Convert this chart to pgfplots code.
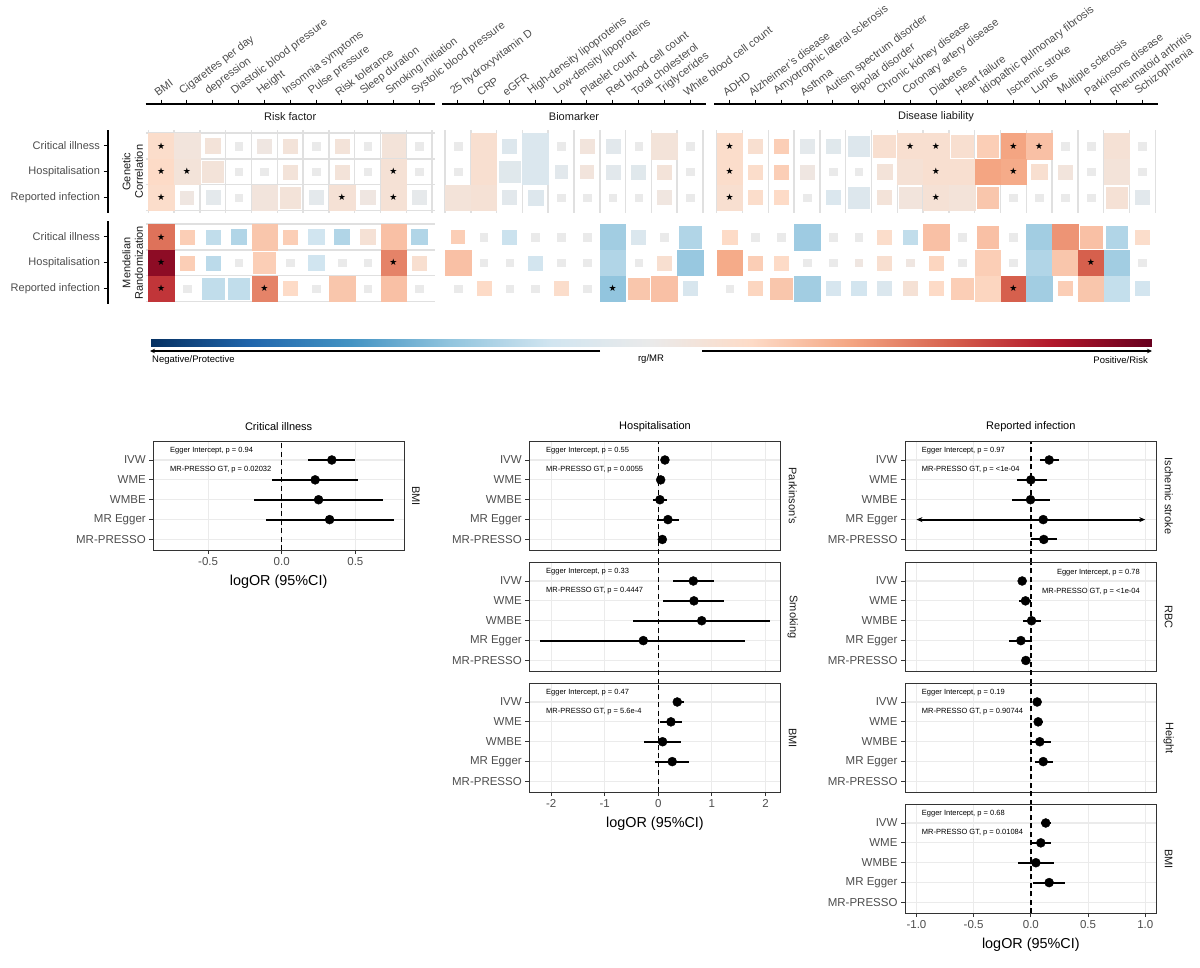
\documentclass[border=0pt]{standalone}
\usepackage{fontspec}
\setmainfont{Liberation Sans}
\newfontfamily\symfont{DejaVu Sans}
\usepackage{pgfplots}
\pgfplotsset{compat=1.18}
\usetikzlibrary{arrows.meta}

\newcommand{\fs}[1]{\fontsize{#1pt}{#1pt}\selectfont}
\definecolor{grey30}{HTML}{4D4D4D}
\definecolor{grey20}{HTML}{333333}
\definecolor{grey10}{HTML}{1A1A1A}
\definecolor{grey92}{HTML}{EBEBEB}
\definecolor{heatgrid}{HTML}{E0E0E0}

\pgfplotsset{
  colormap={rdbu}{rgb255(0cm)=(5,48,97) rgb255(1cm)=(33,102,172) rgb255(2cm)=(67,147,195)
    rgb255(3cm)=(146,197,222) rgb255(4cm)=(209,229,240) rgb255(5cm)=(234,234,234)
    rgb255(6cm)=(253,219,199) rgb255(7cm)=(244,165,130) rgb255(8cm)=(214,96,77)
    rgb255(9cm)=(178,24,43) rgb255(10cm)=(103,0,31)},
  heat/.style={
    scale only axis, anchor=north west,
    x=25.8pt, y=25.8pt, y dir=reverse,
    xmin=0.4, ymin=0.4, ymax=3.6,
    axis on top, clip=false,
    colormap name=rdbu, point meta min=-1, point meta max=1,
    separate axis lines, axis x line*=top, axis y line*=left,
    axis line style={draw=none},
    xtick=\empty, ytick=\empty,
    minor ytick={0.5,1.5,2.5,3.5},
    grid=minor, minor grid style={color=heatgrid, line width=1.5pt},
    minor tick length=0pt, major tick length=4.5pt, tick align=outside,
    tick style={black, line width=1pt},
    tick label style={font=\fs{11}, color=grey30},
  },
  heattop/.style={
    x axis line style={draw=black, line width=1.3pt},
    axis x line shift=26.4pt,
    xticklabel shift=2.5pt,
    xticklabel style={xshift=-3pt, rotate=37, anchor=south west, inner sep=0pt},
  },
  heatleft/.style={
    ytick={1,2,3},
    yticklabels={Critical illness,Hospitalisation,Reported infection},
    y axis line style={draw=black, line width=1.3pt},
    axis y line shift=37.7pt,
  },
  tiles/.style={
    scatter, only marks, mark=square*, scatter src=explicit,
    scatter/use mapped color={draw=mapped color, fill=mapped color},
    mark options={line width=0.2pt},
    visualization depends on={value \thisrow{s} \as \sz},
    scatter/@pre marker code/.append style={/tikz/mark size=\sz*12.8pt},
  },
  stars/.style={
    only marks, black, mark=text, text mark={\symfont ★}, text mark as node=true,
    text mark style={font=\fs{9}, inner sep=0pt, anchor=center},
  },
  forest/.style={
    scale only axis, anchor=north west, height=108.5pt,
    ymin=0.46, ymax=5.92, ytick={1,2,3,4,5},
    yticklabels={MR-PRESSO,MR Egger,WMBE,WME,IVW},
    xmajorgrids, ymajorgrids, grid style={color=grey92, line width=1.1pt},
    axis line style={color=grey20, line width=0.9pt},
    tick style={color=grey20, line width=0.9pt},
    major tick length=4pt, tick align=outside,
    xtick pos=left, ytick pos=left,
    tick label style={font=\fs{11.5}, color=grey30},
    clip=false,
  },
  inner/.style={xticklabels={}, xtick style={draw=none}},
  est/.style={only marks, black, mark=*, mark size=4.5pt,
    error bars/.cd, x dir=both, x explicit, error mark=none,
    error bar style={line width=2pt, black}},
  zero/.style={black, line width=1.3pt, dash pattern=on 5pt off 3.5pt},
  /pgfplots/table/estcols/.style={x=est, y=r,
    x error plus expr=\thisrow{hi}-\thisrow{est},
    x error minus expr=\thisrow{est}-\thisrow{lo}},
}
\newcommand{\panelstrip}[1]{\node[xshift=12pt, rotate=-90, font=\fs{11}, color=grey10] at (axis description cs:1,0.5) {#1};}
\newcommand{\panelnote}[2]{%
  \node[anchor=west, xshift=13.4pt, font=\fs{7.5}] at ({axis description cs:0,0}|-{axis cs:0,5.47}) {Egger Intercept, p = #1};
  \node[anchor=west, xshift=13.4pt, font=\fs{7.5}] at ({axis description cs:0,0}|-{axis cs:0,4.5}) {MR-PRESSO GT, p = #2};}
\newcommand{\paneltitle}[1]{\node[yshift=14.7pt, font=\fs{11}] at (axis description cs:0.5,1) {#1};}
\newcommand{\panelxlabel}{\node[yshift=-32pt, font=\fs{14.4}] at (axis description cs:0.5,0) {logOR (95\%CI)};}

\begin{document}
\begin{tikzpicture}
\path[use as bounding box] (0,0) rectangle (1200pt,-967pt);

% ---------------- heatmap: genetic correlation ----------------
\begin{axis}[heat, heattop, heatleft, at={(145.72pt,-130.42pt)}, xmax=11.6,
  minor xtick={0.5,1.5,...,11.5}, xtick={1,...,11},
  xticklabels={BMI,Cigarettes per day,depression,Diastolic blood pressure,Height,Insomnia symptoms,Pulse pressure,Risk tolerance,Sleep duration,Smoking initiation,Systolic blood pressure}]
\addplot[tiles] table[meta=v] {
x y v s
1 1 0.18 1
2 1 0.08 1
3 1 0.10 0.6
4 1 0 0.3
5 1 0.05 0.55
6 1 0.10 0.55
7 1 0 0.3
8 1 0.10 0.55
9 1 0 0.3
10 1 0.10 0.9
11 1 0 0.3
1 2 0.20 1
2 2 0.10 1
3 2 0.10 0.8
4 2 0 0.3
5 2 0 0.3
6 2 0.10 0.55
7 2 0 0.3
8 2 0.10 0.55
9 2 0 0.3
10 2 0.12 1
11 2 0 0.3
1 3 0.18 1
2 3 0.05 0.5
3 3 -0.05 0.55
4 3 0 0.3
5 3 0.08 1
6 3 0.10 0.8
7 3 -0.05 0.55
8 3 0.12 1
9 3 0.05 0.55
10 3 0.12 1
11 3 -0.03 0.55
};
\addplot[stars] table {
x y
1 1
1 2
2 2
10 2
1 3
8 3
10 3
};
\node[yshift=13.4pt, font=\fs{11}, color=grey10] at (axis description cs:0.5,1) {Risk factor};
\node[xshift=-13pt, rotate=90, align=center, font=\fontsize{11pt}{12.5pt}\selectfont, color=grey10] at (axis description cs:0,0.5) {Genetic\\Correlation};
\end{axis}

\begin{axis}[heat, heattop, at={(442.42pt,-130.42pt)}, xmax=10.6,
  minor xtick={0.5,1.5,...,10.5}, xtick={1,...,10},
  xticklabels={25 hydroxyvitamin D,CRP,eGFR,High-density lipoproteins,Low-density lipoproteins,Platelet count,Red blood cell count,Total cholesterol,Triglycerides,White blood cell count}]
\addplot[tiles] table[meta=v] {
x y v s
1 1 0 0.3
2 1 0.15 1
3 1 -0.10 0.55
4 1 -0.12 1
5 1 0 0.3
6 1 0.08 0.55
7 1 -0.06 0.55
8 1 0 0.3
9 1 0.10 1
10 1 0 0.3
1 2 0 0.3
2 2 0.15 1
3 2 -0.08 0.85
4 2 -0.12 1
5 2 -0.06 0.5
6 2 0.08 0.5
7 2 -0.06 0.55
8 2 -0.08 0.55
9 2 0.10 0.55
10 2 0 0.3
1 3 0.10 1
2 3 0.12 1
3 3 -0.06 0.55
4 3 -0.10 0.6
5 3 0 0.3
6 3 0 0.3
7 3 0 0.3
8 3 0 0.3
9 3 0.06 0.55
10 3 0 0.3
};
\node[yshift=13.4pt, font=\fs{11}, color=grey10] at (axis description cs:0.5,1) {Biomarker};
\end{axis}

\begin{axis}[heat, heattop, at={(714.12pt,-130.42pt)}, xmax=17.6,
  minor xtick={0.5,1.5,...,17.5}, xtick={1,...,17},
  xticklabels={ADHD,Alzheimer's disease,Amyotrophic lateral sclerosis,Asthma,Autism spectrum disorder,Bipolar disorder,Chronic kidney disease,Coronary artery disease,Diabetes,Heart failure,Idiopathic pulmonary fibrosis,Ischemic stroke,Lupus,Multiple sclerosis,Parkinsons disease,Rheumatoid arthritis,Schizophrenia}]
\addplot[tiles] table[meta=v] {
x y v s
1 1 0.18 1
2 1 0.15 0.55
3 1 0.25 0.55
4 1 -0.05 0.55
5 1 -0.08 0.55
6 1 -0.10 0.8
7 1 0.15 0.85
8 1 0.15 1
9 1 0.15 1
10 1 0.15 0.85
11 1 0.25 0.85
12 1 0.40 1
13 1 0.30 1
14 1 0 0.3
15 1 0 0.3
16 1 0.12 1
17 1 0 0.3
1 2 0.18 1
2 2 0.18 0.55
3 2 0.25 0.55
4 2 0.05 0.55
5 2 0 0.3
6 2 0 0.3
7 2 0.10 0.6
8 2 0.12 1
9 2 0.15 1
10 2 0.15 1
11 2 0.40 1
12 2 0.38 1
13 2 0.15 0.6
14 2 0.08 0.55
15 2 0 0.3
16 2 0.10 1
17 2 0 0.3
1 3 0.15 1
2 3 0.18 0.55
3 3 0.20 0.55
4 3 0 0.3
5 3 -0.12 0.55
6 3 -0.10 0.85
7 3 0.10 0.55
8 3 0.08 0.85
9 3 0.12 1
10 3 0.10 1
11 3 0.28 0.85
12 3 0 0.3
13 3 0 0.3
14 3 0 0.3
15 3 0 0.3
16 3 0.12 0.85
17 3 -0.06 0.55
};
\addplot[stars] table {
x y
1 1
8 1
9 1
12 1
13 1
1 2
9 2
12 2
1 3
9 3
};
\node[yshift=13.4pt, font=\fs{11}, color=grey10] at (axis description cs:0.5,1) {Disease liability};
\end{axis}

% ---------------- heatmap: Mendelian randomization ----------------
\begin{axis}[heat, heatleft, at={(145.72pt,-221.42pt)}, xmax=11.6,
  minor xtick={0.5,1.5,...,11.5},
  colorbar horizontal,
  colorbar style={at={(parent axis.south west)}, anchor=north west,
    xshift=4.28pt, yshift=-27pt, scale only axis, width=1002pt, height=7pt,
    xtick=\empty, ytick=\empty, axis line style={draw=none}}]
\addplot[tiles] table[meta=v] {
x y v s
1 1 0.55 1
2 1 0.25 0.55
3 1 -0.25 0.55
4 1 -0.30 0.6
5 1 0.28 1
6 1 0.25 0.55
7 1 -0.20 0.6
8 1 -0.30 0.6
9 1 0.12 0.6
10 1 0.30 1
11 1 -0.30 0.6
1 2 0.90 1
2 2 0.25 0.55
3 2 -0.27 0.55
4 2 0 0.3
5 2 0.25 0.85
6 2 0 0.3
7 2 -0.20 0.6
8 2 0 0.3
9 2 0 0.3
10 2 0.50 1
11 2 0.15 0.55
1 3 0.72 1
2 3 0 0.3
3 3 -0.25 0.85
4 3 -0.25 0.85
5 3 0.50 1
6 3 0.20 0.55
7 3 0 0.3
8 3 0.28 1
9 3 0 0.3
10 3 0.30 1
11 3 0 0.3
};
\addplot[stars] table {
x y
1 1
1 2
10 2
1 3
5 3
};
\node[xshift=-13pt, rotate=90, align=center, font=\fontsize{11pt}{12.5pt}\selectfont, color=grey10] at (axis description cs:0,0.5) {Mendelian\\Randomization};
\end{axis}

\begin{axis}[heat, at={(442.42pt,-221.42pt)}, xmax=10.6,
  minor xtick={0.5,1.5,...,10.5}]
\addplot[tiles] table[meta=v] {
x y v s
1 1 0.25 0.5
2 1 0 0.3
3 1 -0.22 0.55
4 1 0 0.3
5 1 0 0.3
6 1 0 0.3
7 1 -0.35 1
8 1 -0.12 0.55
9 1 0 0.3
10 1 -0.30 0.85
1 2 0.30 1
2 2 0 0.3
3 2 0 0.3
4 2 -0.18 0.55
5 2 0 0.3
6 2 0 0.3
7 2 -0.30 1
8 2 0 0.3
9 2 0.15 0.55
10 2 -0.38 1
1 3 0 0.3
2 3 0.20 0.55
3 3 0 0.3
4 3 0 0.3
5 3 0.18 0.55
6 3 0 0.3
7 3 -0.40 1
8 3 0.28 0.85
9 3 0.30 1
10 3 -0.14 0.55
};
\addplot[stars] table {
x y
7 3
};
\end{axis}

\begin{axis}[heat, at={(714.12pt,-221.42pt)}, xmax=17.6,
  minor xtick={0.5,1.5,...,17.5}]
\addplot[tiles] table[meta=v] {
x y v s
1 1 0.20 0.55
2 1 0 0.3
3 1 0 0.3
4 1 -0.36 1
5 1 0 0.3
6 1 0 0.3
7 1 0.18 0.55
8 1 -0.25 0.55
9 1 0.30 1
10 1 0 0.3
11 1 0.30 0.85
12 1 0 0.3
13 1 -0.35 1
14 1 0.45 1
15 1 0.30 0.85
16 1 -0.30 0.85
17 1 0.18 0.55
1 2 0.38 1
2 2 0.25 0.55
3 2 0.20 0.55
4 2 0 0.3
5 2 0 0.3
6 2 0.05 0.3
7 2 0.15 0.55
8 2 0.05 0.3
9 2 0.22 0.55
10 2 0 0.3
11 2 0.25 1
12 2 0 0.3
13 2 -0.30 1
14 2 0.28 1
15 2 0.60 1
16 2 -0.35 1
17 2 0 0.3
1 3 0 0.3
2 3 0.22 0.55
3 3 0.28 0.85
4 3 -0.35 1
5 3 -0.15 0.55
6 3 -0.18 0.55
7 3 -0.12 0.55
8 3 0.12 0.55
9 3 0.20 0.55
10 3 0.25 0.85
11 3 0.22 1
12 3 0.60 1
13 3 -0.35 1
14 3 0.25 0.55
15 3 0.28 1
16 3 -0.24 1
17 3 -0.18 0.55
};
\addplot[stars] table {
x y
15 2
12 3
};
\end{axis}

% colour bar arrows and labels
\draw[black, line width=1.3pt, -{Stealth[length=5pt, width=4.5pt]}] (600pt,-351pt) -- (150pt,-351pt);
\draw[black, line width=1.3pt, -{Stealth[length=5pt, width=4.5pt]}] (702pt,-351pt) -- (1152pt,-351pt);
\node[anchor=west, font=\fs{9.5}, inner sep=0pt] at (152pt,-360pt) {Negative/Protective};
\node[font=\fs{9.5}, inner sep=0pt] at (651pt,-359pt) {rg/MR};
\node[anchor=east, font=\fs{9.5}, inner sep=0pt] at (1148pt,-360pt) {Positive/Risk};

% ---------------- forest plots: critical illness ----------------
\begin{axis}[forest, at={(153.3pt,-441.7pt)}, width=250.7pt,
  xmin=-0.872, xmax=0.830, xtick={-0.5,0,0.5}, xticklabels={-0.5,0.0,0.5}]
\addplot[zero] coordinates {(0,0.46) (0,5.92)};
\addplot[est] table[estcols] {
r est lo hi
5 0.34 0.18 0.50
4 0.227 -0.064 0.518
3 0.25 -0.19 0.69
2 0.325 -0.11 0.76
};
\paneltitle{Critical illness}
\panelstrip{BMI}
\panelnote{0.94}{0.02032}
\panelxlabel
\end{axis}

% ---------------- forest plots: hospitalisation ----------------
\begin{axis}[forest, inner, at={(529.3pt,-441.7pt)}, width=251.4pt,
  xmin=-2.407, xmax=2.284, xtick={-2,-1,0,1,2}]
\addplot[zero] coordinates {(0,-0.17) (0,5.92)};
\addplot[est] table[estcols] {
r est lo hi
5 0.124 0.10 0.15
4 0.044 -0.02 0.12
3 0.03 -0.09 0.17
2 0.18 -0.02 0.39
1 0.075 0.05 0.10
};
\paneltitle{Hospitalisation}
\panelstrip{Parkinson's}
\panelnote{0.55}{0.0055}
\end{axis}

\begin{axis}[forest, inner, at={(529.3pt,-562.7pt)}, width=251.4pt,
  xmin=-2.407, xmax=2.284, xtick={-2,-1,0,1,2}]
\addplot[zero] coordinates {(0,-0.17) (0,5.92)};
\addplot[est] table[estcols] {
r est lo hi
5 0.653 0.267 1.04
4 0.665 0.093 1.225
3 0.81 -0.48 2.08
2 -0.28 -2.21 1.62
};
\panelstrip{Smoking}
\panelnote{0.33}{0.4447}
\end{axis}

\begin{axis}[forest, at={(529.3pt,-683.7pt)}, width=251.4pt,
  xmin=-2.407, xmax=2.284, xtick={-2,-1,0,1,2}, xticklabels={-2,-1,0,1,2}]
\addplot[zero] coordinates {(0,0.46) (0,5.92)};
\addplot[est] table[estcols] {
r est lo hi
5 0.354 0.27 0.48
4 0.236 0.04 0.45
3 0.08 -0.27 0.42
2 0.26 -0.06 0.58
};
\panelstrip{BMI}
\panelnote{0.47}{5.6e-4}
\panelxlabel
\end{axis}

% ---------------- forest plots: reported infection ----------------
\begin{axis}[forest, inner, at={(905pt,-441.7pt)}, width=251.7pt,
  xmin=-1.1, xmax=1.1, xtick={-1,-0.5,0,0.5,1}]
\addplot[zero] coordinates {(0,-0.17) (0,5.92)};
\addplot[black, line width=2pt, {Stealth[length=6pt, width=5pt]}-{Stealth[length=6pt, width=5pt]}]
  coordinates {(-1.0,2) (1.0,2)};
\addplot[est] table[estcols] {
r est lo hi
5 0.16 0.078 0.247
4 0.0 -0.125 0.137
3 -0.003 -0.169 0.166
2 0.108 0.108 0.108
1 0.113 0.0 0.23
};
\paneltitle{Reported infection}
\panelstrip{Ischemic stroke}
\panelnote{0.97}{<1e-04}
\end{axis}

\begin{axis}[forest, inner, at={(905pt,-562.7pt)}, width=251.7pt,
  xmin=-1.1, xmax=1.1, xtick={-1,-0.5,0,0.5,1}]
\addplot[zero] coordinates {(0,-0.17) (0,5.92)};
\addplot[est] table[estcols] {
r est lo hi
5 -0.076 -0.09 -0.06
4 -0.047 -0.105 0.0
3 0.006 -0.067 0.087
2 -0.087 -0.19 0.012
1 -0.044 -0.06 -0.03
};
\panelstrip{RBC}
\node[anchor=east, xshift=-13.4pt, font=\fs{7.5}] at ({axis description cs:1,0}|-{axis cs:0,5.44}) {Egger Intercept, p = 0.78};
\node[anchor=east, xshift=-13.4pt, font=\fs{7.5}] at ({axis description cs:1,0}|-{axis cs:0,4.45}) {MR-PRESSO GT, p = <1e-04};
\end{axis}

\begin{axis}[forest, inner, at={(905pt,-683.7pt)}, width=251.7pt,
  xmin=-1.1, xmax=1.1, xtick={-1,-0.5,0,0.5,1}]
\addplot[zero] coordinates {(0,-0.17) (0,5.92)};
\addplot[est] table[estcols] {
r est lo hi
5 0.055 0.045 0.065
4 0.064 0.035 0.107
3 0.078 -0.009 0.18
2 0.108 0.035 0.19
};
\panelstrip{Height}
\panelnote{0.19}{0.90744}
\end{axis}

\begin{axis}[forest, at={(905pt,-804.7pt)}, width=251.7pt,
  xmin=-1.1, xmax=1.1, xtick={-1,-0.5,0,0.5,1}, xticklabels={-1.0,-0.5,0.0,0.5,1.0}]
\addplot[zero] coordinates {(0,0.46) (0,5.92)};
\addplot[est] table[estcols] {
r est lo hi
5 0.13 0.087 0.174
4 0.087 0.006 0.174
3 0.044 -0.116 0.203
2 0.16 0.02 0.30
};
\panelstrip{BMI}
\panelnote{0.68}{0.01084}
\panelxlabel
\end{axis}
\end{tikzpicture}
\end{document}
